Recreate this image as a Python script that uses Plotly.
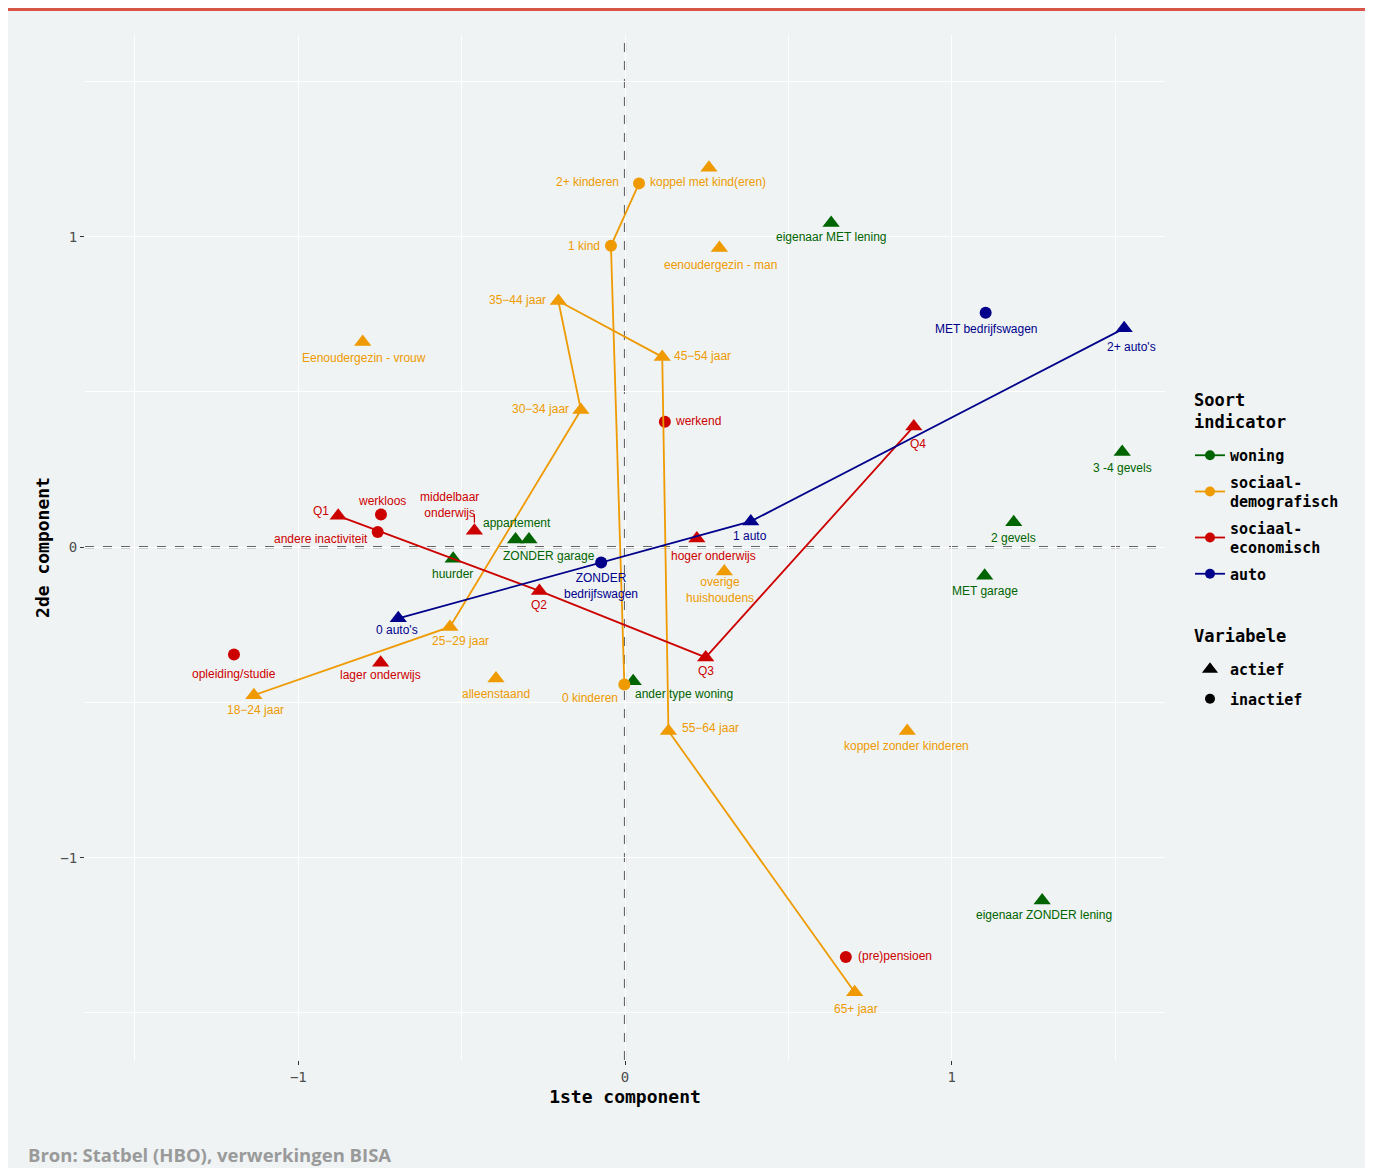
import plotly.graph_objects as go

# ---------------- data ----------------
categories = ["woning", "sociaal-demografisch", "sociaal-economisch", "auto"]

woning_labels = ["eigenaar MET lening", "eigenaar ZONDER lening", "huurder", "appartement",
                 "ZONDER garage", "MET garage", "2 gevels", "3 -4 gevels", "ander type woning"]
woning_x = [0.631, 1.277, -0.526, -0.335, -0.294, 1.101, 1.190, 1.522, 0.025]
woning_y = [1.044, -1.138, -0.037, 0.025, 0.025, -0.092, 0.080, 0.307, -0.432]
woning_type = ["actief", "actief", "actief", "actief", "actief", "actief", "actief", "actief", "actief"]

demo_labels = ["2+ kinderen", "koppel met kind(eren)", "1 kind", "0 kinderen", "eenoudergezin - man",
               "Eenoudergezin - vrouw", "18\u221224 jaar", "25\u221229 jaar", "30\u221234 jaar",
               "35\u221244 jaar", "45\u221254 jaar", "55\u221264 jaar", "65+ jaar", "alleenstaand",
               "overige huishoudens", "koppel zonder kinderen"]
demo_x = [0.043, 0.257, -0.043, -0.002, 0.289, -0.803, -1.136, -0.536, -0.135, -0.204, 0.114,
          0.133, 0.703, -0.395, 0.304, 0.864]
demo_y = [1.172, 1.222, 0.971, -0.442, 0.964, 0.661, -0.477, -0.257, 0.442, 0.793, 0.613,
          -0.592, -1.434, -0.423, -0.078, -0.592]
demo_type = ["inactief", "actief", "inactief", "inactief", "actief", "actief", "actief", "actief",
             "actief", "actief", "actief", "actief", "actief", "actief", "actief", "actief"]

eco_labels = ["Q1", "Q2", "Q3", "Q4", "werkloos", "andere inactiviteit", "middelbaar onderwijs",
              "hoger onderwijs", "lager onderwijs", "werkend", "opleiding/studie", "(pre)pensioen"]
eco_x = [-0.878, -0.262, 0.247, 0.884, -0.747, -0.757, -0.461, 0.220, -0.748, 0.122, -1.197, 0.676]
eco_y = [0.101, -0.141, -0.355, 0.389, 0.105, 0.049, 0.053, 0.028, -0.372, 0.404, -0.346, -1.320]
eco_type = ["actief", "actief", "actief", "actief", "inactief", "inactief", "actief", "actief",
            "actief", "inactief", "inactief", "inactief"]

auto_labels = ["0 auto's", "1 auto", "2+ auto's", "MET bedrijfswagen", "ZONDER bedrijfswagen"]
auto_x = [-0.694, 0.385, 1.528, 1.104, -0.073]
auto_y = [-0.229, 0.083, 0.705, 0.755, -0.049]
auto_type = ["actief", "actief", "actief", "inactief", "inactief"]

# ordered paths (sequences of labels connected by a line)
woning_paths = []
demo_paths = [["0 kinderen", "1 kind", "2+ kinderen"],
              ["18\u221224 jaar", "25\u221229 jaar", "30\u221234 jaar", "35\u221244 jaar",
               "45\u221254 jaar", "55\u221264 jaar", "65+ jaar"]]
eco_paths = [["Q1", "Q2", "Q3", "Q4"]]
auto_paths = [["0 auto's", "1 auto", "2+ auto's"]]

x_ticks = [-1, 0, 1]
y_ticks = [-1, 0, 1]

# ---------------- styling ----------------
colors = {"woning": "#006400", "sociaal-demografisch": "#EE9A00",
          "sociaal-economisch": "#CD0000", "auto": "#00008B"}
legend_names = {"woning": "woning", "sociaal-demografisch": "sociaal-<br>demografisch",
                "sociaal-economisch": "sociaal-<br>economisch", "auto": "auto"}
symbols = {"actief": "triangle-up", "inactief": "circle"}
sizes = {"actief": 15, "inactief": 12}
display_text = {"overige huishoudens": "overige<br>huishoudens",
                "middelbaar onderwijs": "middelbaar<br>onderwijs",
                "ZONDER bedrijfswagen": "ZONDER<br>bedrijfswagen"}
leader_lines = {"middelbaar onderwijs": (0, -18)}
# label offsets in screen pixels (xshift, yshift)
label_shift = {
    "2+ kinderen": (-52, 1), "koppel met kind(eren)": (-1, -14), "1 kind": (-27, 0),
    "0 kinderen": (-34, -14), "eenoudergezin - man": (1, -17), "Eenoudergezin - vrouw": (1, -16),
    "18\u221224 jaar": (2, -15), "25\u221229 jaar": (11, -14), "30\u221234 jaar": (-40, 1),
    "35\u221244 jaar": (-41, 1), "45\u221254 jaar": (40, 1), "55\u221264 jaar": (42, 3),
    "65+ jaar": (1, -17), "alleenstaand": (0, -15), "overige huishoudens": (-4, -19),
    "koppel zonder kinderen": (-1, -15),
    "Q1": (-17, 5), "werkloos": (1, 14), "andere inactiviteit": (-57, -7),
    "middelbaar onderwijs": (-25, 26), "Q2": (0, -14), "hoger onderwijs": (17, -17),
    "werkend": (33, 1), "Q4": (4, -18), "Q3": (0, -14), "opleiding/studie": (0, -19),
    "lager onderwijs": (0, -12), "(pre)pensioen": (49, 1),
    "eigenaar MET lening": (0, -14), "3 -4 gevels": (0, -16), "2 gevels": (0, -16),
    "MET garage": (0, -15), "eigenaar ZONDER lening": (2, -15), "appartement": (1, 16),
    "ZONDER garage": (20, -17), "huurder": (-1, -15), "ander type woning": (51, -13),
    "MET bedrijfswagen": (1, -16), "2+ auto's": (7, -19), "1 auto": (-1, -15),
    "ZONDER bedrijfswagen": (0, -24), "0 auto's": (-1, -12),
}

BG = "#EFF3F4"
MONO = "DejaVu Sans Mono"
LABEL_FONT = "Liberation Sans, Arial, sans-serif"

series = {
    "woning": (woning_labels, woning_x, woning_y, woning_type, woning_paths),
    "sociaal-demografisch": (demo_labels, demo_x, demo_y, demo_type, demo_paths),
    "sociaal-economisch": (eco_labels, eco_x, eco_y, eco_type, eco_paths),
    "auto": (auto_labels, auto_x, auto_y, auto_type, auto_paths),
}

fig = go.Figure()
annotations = []

# points
for cat in categories:
    labels, xs, ys, types, paths = series[cat]
    fig.add_trace(go.Scatter(
        x=xs, y=ys, mode="markers", showlegend=False, hoverinfo="text", text=labels,
        marker=dict(color=colors[cat], symbol=[symbols[t] for t in types], opacity=1,
                    size=[sizes[t] for t in types], line=dict(width=0)),
    ))
    for lab, xv, yv in zip(labels, xs, ys):
        dx, dy = label_shift.get(lab, (0, -15))
        annotations.append(dict(
            x=xv, y=yv, xref="x", yref="y", text=display_text.get(lab, lab), showarrow=False,
            xshift=dx, yshift=dy, font=dict(family=LABEL_FONT, size=12, color=colors[cat]),
            xanchor="center", yanchor="middle",
        ))
        if lab in leader_lines:
            ax, ay = leader_lines[lab]
            annotations.append(dict(
                x=xv, y=yv, xref="x", yref="y", text="", showarrow=True, arrowhead=0,
                arrowwidth=1.2, arrowcolor=colors[cat], ax=ax, ay=ay, standoff=8,
            ))

# paths (drawn on top of points)
for cat in categories:
    labels, xs, ys, types, paths = series[cat]
    idx = {l: i for i, l in enumerate(labels)}
    for path in paths:
        fig.add_trace(go.Scatter(
            x=[xs[idx[l]] for l in path], y=[ys[idx[l]] for l in path], mode="lines",
            line=dict(color=colors[cat], width=1.8), showlegend=False, hoverinfo="skip",
        ))

# legend entries
for cat in categories:
    fig.add_trace(go.Scatter(
        x=[None], y=[None], mode="lines+markers", name=legend_names[cat], legend="legend",
        legendgroup=cat,
        line=dict(color=colors[cat], width=1.8), marker=dict(color=colors[cat], symbol="circle", size=10),
    ))
for t in ["actief", "inactief"]:
    fig.add_trace(go.Scatter(
        x=[None], y=[None], mode="markers", name=t, legend="legend2", legendgroup=t,
        marker=dict(color="black", symbol=symbols[t], size=14 if t == "actief" else 10),
    ))

W, H = 1357, 1160
ML, MR, MT, MB = 77, 200, 27, 108
PW, PH = W - ML - MR, H - MT - MB
PAGE_OFF = 8  # body margin of the page


def px_to_paper_x(px):
    return (px - PAGE_OFF - ML) / PW


def px_to_paper_y(py):
    return 1 - (py - PAGE_OFF - MT) / PH


annotations.append(dict(
    text="Bron: Statbel (HBO), verwerkingen BISA", xref="paper", yref="paper",
    x=px_to_paper_x(26), y=px_to_paper_y(1154), xanchor="left", yanchor="middle", showarrow=False,
    font=dict(family="Open Sans, sans-serif", size=18.5, color="#9A9A9A", weight="bold"),
))
# legend titles
annotations.append(dict(
    text="<b>Soort<br>indicator</b>", xref="paper", yref="paper", align="left",
    x=px_to_paper_x(1192), y=px_to_paper_y(411), xanchor="left", yanchor="middle", showarrow=False,
    font=dict(family=MONO, size=17, color="black"),
))
annotations.append(dict(
    text="<b>Variabele</b>", xref="paper", yref="paper", align="left",
    x=px_to_paper_x(1192), y=px_to_paper_y(636), xanchor="left", yanchor="middle", showarrow=False,
    font=dict(family=MONO, size=17, color="black"),
))

shapes = [
    dict(type="line", xref="x", yref="paper", x0=0, x1=0, y0=0, y1=1, layer="between",
         line=dict(color="#666666", width=2.2, dash="dash")),
    dict(type="line", xref="paper", yref="y", x0=0, x1=1, y0=0, y1=0, layer="between",
         line=dict(color="#666666", width=2.2, dash="dash")),
    dict(type="rect", xref="paper", yref="paper", x0=-ML / PW, x1=1 + MR / PW,
         y0=1 + (MT - 3) / PH, y1=1 + MT / PH, fillcolor="#D95446", line=dict(width=0), layer="above"),
]

axis_common = dict(
    showgrid=True, gridcolor="white", gridwidth=1.3, zeroline=False, showline=False,
    ticks="outside", ticklen=4, tickwidth=1, tickcolor="#333333",
    tickfont=dict(family=MONO, size=14, color="#4D4D4D"),
    minor=dict(dtick=0.5, showgrid=True, gridcolor="white", gridwidth=0.6, ticks=""),
)

fig.update_layout(
    width=W, height=H, margin=dict(l=ML, r=MR, t=MT, b=MB),
    paper_bgcolor=BG, plot_bgcolor=BG,
    xaxis=dict(range=[-1.653, 1.653], tickvals=x_ticks, tick0=0, dtick=1,
               title=dict(text="<b>1ste component</b>", standoff=6,
                          font=dict(family=MONO, size=18, color="black")),
               **axis_common),
    yaxis=dict(range=[-1.652, 1.650], tickvals=y_ticks, tick0=0, dtick=1,
               title=dict(text="<b>2de component</b>", standoff=6,
                          font=dict(family=MONO, size=18, color="black")),
               **axis_common),
    legend=dict(x=px_to_paper_x(1190), y=px_to_paper_y(439), xanchor="left", yanchor="top",
                bgcolor="rgba(0,0,0,0)",
                font=dict(family=MONO, size=15, color="black", weight="bold"),
                itemwidth=30, traceorder="grouped", tracegroupgap=4),
    legend2=dict(x=px_to_paper_x(1190), y=px_to_paper_y(653), xanchor="left", yanchor="top",
                 bgcolor="rgba(0,0,0,0)",
                 font=dict(family=MONO, size=15, color="black", weight="bold"),
                 itemwidth=30, traceorder="grouped", tracegroupgap=7),
    annotations=annotations, shapes=shapes, showlegend=True,
)

fig.write_html("out.html")
